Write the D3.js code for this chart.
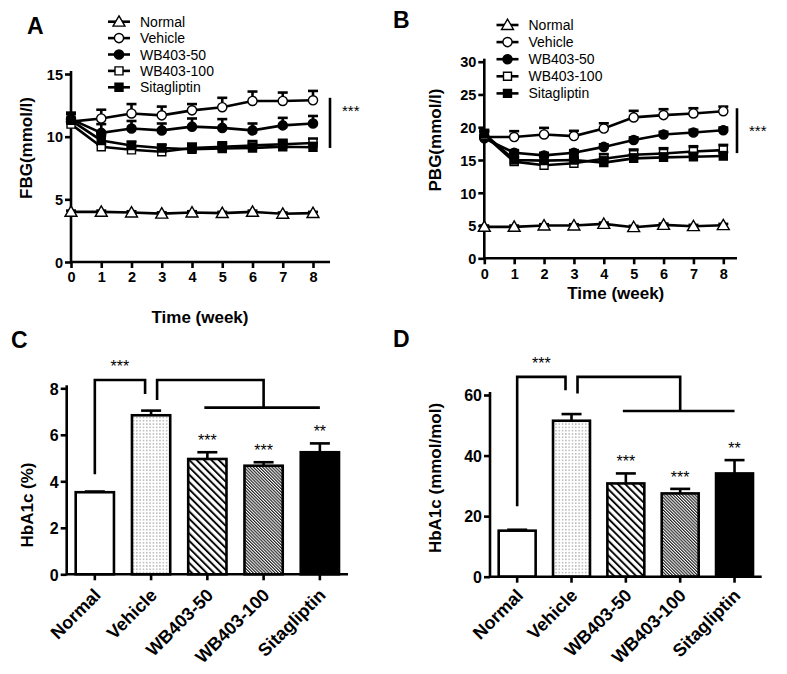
<!DOCTYPE html>
<html><head><meta charset="utf-8">
<script src="https://cdn.jsdelivr.net/npm/d3@7/dist/d3.min.js"></script>
<style>
body{margin:0;background:#fff;}
svg{display:block;font-family:"Liberation Sans",Arial,sans-serif;}
</style></head>
<body>
<svg id="chart" width="787" height="674"></svg>
<script>
// ---------- DATA ----------
const weeks = [0,1,2,3,4,5,6,7,8];
const groups = ["Normal","Vehicle","WB403-50","WB403-100","Sitagliptin"];

const fbgNormal      = [4.0,4.0,3.95,3.86,3.95,3.9,4.0,3.85,3.9];
const fbgVehicle     = [11.2,11.45,11.85,11.7,12.1,12.35,12.85,12.85,12.9];
const fbgWB50        = [11.4,10.3,10.65,10.5,10.8,10.7,10.5,10.9,11.05];
const fbgWB100       = [11.0,9.2,8.95,8.8,9.1,9.2,9.3,9.4,9.5];
const fbgSita        = [11.3,9.7,9.3,9.1,9.0,9.05,9.1,9.2,9.15];
const fbgNormalErr   = [0.1,0.1,0.1,0.1,0.1,0.1,0.1,0.1,0.1];
const fbgVehicleErr  = [0.6,0.7,0.75,0.7,0.5,0.75,0.75,0.67,0.75];
const fbgWB50Err     = [0.5,0.7,0.6,0.55,0.65,0.7,0.55,0.6,0.6];
const fbgWB100Err    = [0.3,0.2,0.25,0.2,0.35,0.35,0.35,0.35,0.35];
const fbgSitaErr     = [0.6,0.4,0.3,0.25,0.3,0.35,0.35,0.35,0.35];

const pbgNormal      = [4.8,4.8,5.0,5.0,5.25,4.75,5.1,4.9,5.05];
const pbgVehicle     = [18.5,18.5,18.9,18.65,19.8,21.5,21.85,22.1,22.45];
const pbgWB50        = [18.3,16.1,15.7,16.1,17.0,18.05,18.9,19.2,19.55];
const pbgWB100       = [18.8,14.75,14.2,14.5,15.2,15.8,16.0,16.3,16.5];
const pbgSita        = [19.0,15.0,14.9,15.0,14.6,15.25,15.4,15.5,15.6];
const pbgNormalErr   = [0.2,0.2,0.2,0.2,0.2,0.2,0.2,0.2,0.2];
const pbgVehicleErr  = [0.8,0.9,1.0,0.8,0.8,1.0,0.9,0.8,0.7];
const pbgWB50Err     = [0.5,0.4,0.4,0.4,0.4,0.4,0.4,0.4,0.4];
const pbgWB100Err    = [0.6,0.6,0.6,0.7,0.7,0.8,0.8,0.8,0.8];
const pbgSitaErr     = [0.6,0.5,0.6,0.5,0.8,0.6,0.6,0.6,0.6];

const hbaPct      = [3.53,6.84,4.96,4.67,5.25];
const hbaPctErr   = [0.03,0.2,0.29,0.15,0.38];
const hbaMol      = [15.2,51.5,30.8,27.5,34.1];
const hbaMolErr   = [0.3,2.2,3.3,1.5,4.4];
const starsBar    = ["","","***","***","**"];

const ticksFBG = [0,5,10,15];
const ticksPBG = [0,5,10,15,20,25,30];
const ticksPct = [0,2,4,6,8];
const ticksMol = [0,20,40,60];

const sigFBG = [9.1,13.1], sigFBGStar = 12.4;
const sigPBG = [16.05,22.9], sigPBGStar = 20.06;

// ---------- STYLE ----------
const svg = d3.select("#chart");
const defs = svg.append("defs");
const dots = defs.append("pattern").attr("id","dots").attr("patternUnits","userSpaceOnUse")
  .attr("width",3.3).attr("height",3.3);
dots.append("rect").attr("width",3.3).attr("height",3.3).attr("fill","#fff");
dots.append("circle").attr("cx",1.6).attr("cy",1.6).attr("r",0.6).attr("fill","#666");
const hw = defs.append("pattern").attr("id","hatchWide").attr("patternUnits","userSpaceOnUse")
  .attr("width",5.2).attr("height",10).attr("patternTransform","rotate(-45)");
hw.append("rect").attr("width",5.2).attr("height",10).attr("fill","#fff");
hw.append("line").attr("x1",1).attr("x2",1).attr("y1",0).attr("y2",10).attr("stroke","#000").attr("stroke-width",1.9);
const hn = defs.append("pattern").attr("id","hatchNarrow").attr("patternUnits","userSpaceOnUse")
  .attr("width",2.2).attr("height",10).attr("patternTransform","rotate(-45)");
hn.append("rect").attr("width",2.2).attr("height",10).attr("fill","#fff");
hn.append("line").attr("x1",0.6).attr("x2",0.6).attr("y1",0).attr("y2",10).attr("stroke","#000").attr("stroke-width",1.0);
const barFills = ["#fff","url(#dots)","url(#hatchWide)","url(#hatchNarrow)","#000"];

const symTypes = [d3.symbolTriangle, d3.symbolCircle, d3.symbolCircle, d3.symbolSquare, d3.symbolSquare];
const symSizes = [62, 66, 66, 64, 64];
const symFills = ["#fff","#fff","#000","#fff","#000"];

const SW = 2.6;

function panelLetter(t,x,y){
  svg.append("text").attr("x",x).attr("y",y).attr("font-size",23).attr("font-weight","bold").text(t);
}
function styleAxis(g){
  g.selectAll("path,line").attr("stroke","#000").attr("stroke-width",SW);
  g.selectAll("text").attr("fill","#000").attr("font-weight","bold");
}

// ---------- LINE PANELS ----------
function linePanel(opt){
  const x = d3.scaleLinear().domain([0,8]).range([opt.x0,opt.x8]);
  const y = d3.scaleLinear().domain([0,opt.ymax]).range([opt.yb,opt.yt]);
  const g = svg.append("g");
  const ya = g.append("g").attr("transform",`translate(${opt.x0},0)`)
    .call(d3.axisLeft(y).tickValues(opt.ticks).tickSize(6).tickSizeOuter(0).tickPadding(2));
  ya.select(".domain").remove();
  ya.append("line").attr("x1",0).attr("x2",0).attr("y1",opt.yb+1).attr("y2",opt.yt-3);
  ya.selectAll("text").attr("font-size",14.5).attr("dy","0.36em");
  styleAxis(ya);
  const xa = g.append("g").attr("transform",`translate(0,${opt.yb})`)
    .call(d3.axisBottom(x).tickValues(weeks).tickSize(6).tickSizeOuter(0).tickPadding(4));
  xa.select(".domain").remove();
  xa.append("line").attr("x1",opt.x0).attr("x2",opt.xend).attr("y1",0).attr("y2",0);
  xa.selectAll("text").attr("font-size",14.5);
  styleAxis(xa);
  g.append("text").attr("transform",`translate(${opt.ytx},${(opt.yb+opt.yt)/2-opt.ytShift}) rotate(-90)`)
    .attr("text-anchor","middle").attr("font-size",17).attr("font-weight","bold").text(opt.ytitle);
  g.append("text").attr("x",(opt.x0+opt.x8)/2+opt.xtShift).attr("y",opt.xty)
    .attr("text-anchor","middle").attr("font-size",17).attr("font-weight","bold").text("Time (week)");
  const line = d3.line().x((d,i)=>x(weeks[i])).y(d=>y(d));
  opt.series.forEach((s,k)=>{
    const sg = g.append("g");
    s.vals.forEach((v,i)=>{
      const cx = x(weeks[i]), yt = y(v + s.err[i]);
      sg.append("line").attr("x1",cx).attr("x2",cx).attr("y1",y(v)).attr("y2",yt).attr("stroke","#000").attr("stroke-width",SW);
      sg.append("line").attr("x1",cx-5).attr("x2",cx+5).attr("y1",yt).attr("y2",yt).attr("stroke","#000").attr("stroke-width",SW);
    });
    sg.append("path").attr("d",line(s.vals)).attr("fill","none").attr("stroke","#000").attr("stroke-width",SW);
    s.vals.forEach((v,i)=>{
      sg.append("path").attr("d",d3.symbol().type(symTypes[k]).size(symSizes[k])())
        .attr("transform",`translate(${x(weeks[i])},${y(v)+(k===0?1:0)})`)
        .attr("fill",symFills[k]).attr("stroke","#000").attr("stroke-width",1.4);
    });
  });
  g.append("line").attr("x1",opt.xend).attr("x2",opt.xend).attr("y1",y(opt.sig[0])).attr("y2",y(opt.sig[1]))
    .attr("stroke","#000").attr("stroke-width",SW);
  g.append("text").attr("x",opt.xend+12).attr("y",y(opt.sigStar)+9)
    .attr("font-size",15).text("***");
  groups.forEach((name,k)=>{
    const ly = opt.legY + k*opt.legStep;
    g.append("line").attr("x1",opt.legX-11).attr("x2",opt.legX+11).attr("y1",ly).attr("y2",ly)
      .attr("stroke","#000").attr("stroke-width",SW);
    g.append("path").attr("d",d3.symbol().type(symTypes[k]).size(symSizes[k])())
      .attr("transform",`translate(${opt.legX},${ly+(k===0?1:0)})`)
      .attr("fill",symFills[k]).attr("stroke","#000").attr("stroke-width",1.4);
    g.append("text").attr("x",opt.legX+21).attr("y",ly).attr("dy","0.36em")
      .attr("font-size",14).text(name);
  });
}

linePanel({x0:71,x8:313,xend:330,yb:262,yt:74,ymax:15,ticks:ticksFBG,
  ytitle:"FBG(mmol/l)",ytx:32,ytShift:20,xty:323,xtShift:8,sig:sigFBG,sigStar:sigFBGStar,
  legX:119,legY:21.7,legStep:16.4,
  series:[{vals:fbgNormal,err:fbgNormalErr},{vals:fbgVehicle,err:fbgVehicleErr},
          {vals:fbgWB50,err:fbgWB50Err},{vals:fbgWB100,err:fbgWB100Err},{vals:fbgSita,err:fbgSitaErr}]});
linePanel({x0:484.3,x8:723.3,xend:737,yb:258.3,yt:61.7,ymax:30,ticks:ticksPBG,
  ytitle:"PBG(mmol/l)",ytx:441,ytShift:20,xty:299,xtShift:12,sig:sigPBG,sigStar:sigPBGStar,
  legX:507.5,legY:25,legStep:17.1,
  series:[{vals:pbgNormal,err:pbgNormalErr},{vals:pbgVehicle,err:pbgVehicleErr},
          {vals:pbgWB50,err:pbgWB50Err},{vals:pbgWB100,err:pbgWB100Err},{vals:pbgSita,err:pbgSitaErr}]});

// ---------- BAR PANELS ----------
function barPanel(opt){
  const x = d3.scaleBand().domain(groups).range([opt.x0,opt.x1]).paddingInner(0.32).paddingOuter(0.16);
  const y = d3.scaleLinear().domain([0,opt.ymax]).range([opt.yb,opt.yt]);
  const g = svg.append("g");
  const cx = n => x(n)+x.bandwidth()/2;
  groups.forEach((n,i)=>{
    const v = opt.vals[i], e = opt.err[i];
    const et = y(v+e);
    g.append("line").attr("x1",cx(n)).attr("x2",cx(n)).attr("y1",y(v)).attr("y2",et).attr("stroke","#000").attr("stroke-width",SW);
    g.append("line").attr("x1",cx(n)-10).attr("x2",cx(n)+10).attr("y1",et).attr("y2",et).attr("stroke","#000").attr("stroke-width",SW);
    g.append("rect").attr("x",x(n)).attr("width",x.bandwidth()).attr("y",y(v)).attr("height",opt.yb-y(v))
      .attr("fill",barFills[i]).attr("stroke","#000").attr("stroke-width",SW);
    if(starsBar[i]) g.append("text").attr("x",cx(n)).attr("y",et-6).attr("text-anchor","middle")
      .attr("font-size",16).text(starsBar[i]);
  });
  const ya = g.append("g").attr("transform",`translate(${opt.x0},0)`)
    .call(d3.axisLeft(y).tickValues(opt.ticks).tickSize(6).tickSizeOuter(0).tickPadding(2));
  ya.select(".domain").remove();
  ya.append("line").attr("x1",0).attr("x2",0).attr("y1",opt.yb+1).attr("y2",opt.yt-3);
  ya.selectAll("text").attr("font-size",16).attr("dy","0.36em");
  styleAxis(ya);
  const xa = g.append("g").attr("transform",`translate(0,${opt.yb})`)
    .call(d3.axisBottom(x).tickSize(6).tickSizeOuter(0));
  xa.select(".domain").remove();
  xa.append("line").attr("x1",opt.x0).attr("x2",opt.x1).attr("y1",0).attr("y2",0);
  xa.selectAll("text").attr("font-size",18).attr("text-anchor","end")
    .attr("dy",0).attr("y",0).attr("transform",`translate(7,${opt.lblDy}) rotate(-45)`);
  styleAxis(xa);
  g.append("text").attr("transform",`translate(${opt.ytx},${opt.yty}) rotate(-90)`)
    .attr("text-anchor","middle").attr("font-size",17).attr("font-weight","bold").text(opt.ytitle);
  const b = opt.br;
  const n0 = cx(groups[0]), n1 = cx(groups[1]);
  g.append("path").attr("d",`M${n0},${y(b.l0)}V${y(b.top)}H${n1-6}V${y(b.l1)}`)
    .attr("fill","none").attr("stroke","#000").attr("stroke-width",SW);
  g.append("path").attr("d",`M${n1+6},${y(b.r0)}V${y(b.top)}H${cx(groups[3])}V${y(b.h)}`)
    .attr("fill","none").attr("stroke","#000").attr("stroke-width",SW);
  g.append("line").attr("x1",cx(groups[2])-3).attr("x2",cx(groups[4])).attr("y1",y(b.h)).attr("y2",y(b.h))
    .attr("stroke","#000").attr("stroke-width",SW);
  g.append("text").attr("x",(n0+n1)/2-3).attr("y",y(b.top)-8).attr("text-anchor","middle")
    .attr("font-size",16).text("***");
}

barPanel({x0:66.7,x1:348,yb:574.3,yt:388.3,ymax:8,ticks:ticksPct,vals:hbaPct,err:hbaPctErr,lblDy:22,
  ytitle:"HbA1c (%)",ytx:33,yty:505,br:{l0:4.3,top:8.36,l1:7.76,r0:7.5,h:7.17}});
barPanel({x0:490,x1:761.7,yb:576.7,yt:395,ymax:60,ticks:ticksMol,vals:hbaMol,err:hbaMolErr,lblDy:20,
  ytitle:"HbA1c (mmol/mol)",ytx:441,yty:478,br:{l0:23.3,top:66,l1:61.6,r0:60.5,h:54.7}});

panelLetter("A",27,34);
panelLetter("B",393,28);
panelLetter("C",11,348);
panelLetter("D",393,347);
</script>
</body></html>
